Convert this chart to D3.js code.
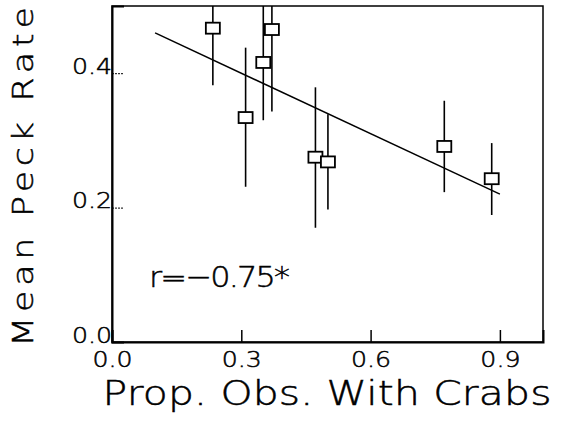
<!DOCTYPE html>
<html>
<head>
<meta charset="utf-8">
<script src="https://cdn.jsdelivr.net/npm/d3@7"></script>
<style>
  body { margin: 0; background: #fff; }
  text { font-family: "DejaVu Sans", sans-serif; font-weight: 200; fill: #000; stroke: #000; stroke-width: 0.5; }
  .axis path, .axis line { stroke: #000; }
</style>
</head>
<body>
<script>
// values
var propCrabs = [0.234, 0.310, 0.351, 0.371, 0.472, 0.501, 0.771, 0.881];
var peckRate  = [0.467, 0.334, 0.416, 0.465, 0.275, 0.268, 0.291, 0.243];
var errLow    = [0.382, 0.231, 0.330, 0.343, 0.170, 0.197, 0.223, 0.189];
var errHigh   = [0.552, 0.438, 0.502, 0.587, 0.379, 0.339, 0.359, 0.296];
var fitX = [0.1, 0.9];
var fitY = [0.460, 0.220];
var xTicks = [0, 0.3, 0.6, 0.9];
var yTicks = [0, 0.2, 0.4];

var margin = {top: 6, right: 23, bottom: 89, left: 112},
width = 566 - margin.left - margin.right,
height = 431 - margin.top - margin.bottom;

var svg = d3.select("body").append("svg")
  .attr("width", 566)
  .attr("height", 431);

var g = svg.append("g")
  .attr("transform", "translate(" + margin.left + "," + margin.top + ")");

var x = d3.scaleLinear().domain([0, 1]).range([0, width]);
var y = d3.scaleLinear().domain([0, 0.5]).range([height, 0]);

g.append("clipPath").attr("id", "plotclip")
  .append("rect").attr("width", width).attr("height", height);

// frame
g.append("rect")
  .attr("width", width).attr("height", height)
  .attr("fill", "none").attr("stroke", "#000").attr("stroke-width", 1.5);

var Xaxis = g.append("g")
  .attr("class", "axis")
  .attr("transform", "translate(0," + height + ")")
  .call(d3.axisBottom(x).tickValues(xTicks).tickFormat(d3.format(".1f")).tickSize(-12).tickPadding(10));
Xaxis.select(".domain").attr("stroke-width", 2);
Xaxis.selectAll("line").attr("stroke-width", 1.5);
Xaxis.selectAll("text").style("font-size", "21px").attr("transform", "scale(1.2,1)");

var Yaxis = g.append("g")
  .attr("class", "axis")
  .call(d3.axisLeft(y).tickValues(yTicks).tickFormat(d3.format(".1f")).tickSize(-12).tickPadding(0));
Yaxis.select(".domain").attr("stroke-width", 2);
Yaxis.selectAll("line").attr("stroke-width", 1).attr("stroke-dasharray", "2,1");
Yaxis.selectAll("text").attr("dy", 0).style("font-size", "21px").attr("transform", "scale(1.2,1)");

// error bars
var data = propCrabs.map(function(d, i) {
  return {x: d, y: peckRate[i], lo: errLow[i], hi: errHigh[i]};
});

g.append("g").attr("clip-path", "url(#plotclip)")
  .selectAll("line.err").data(data).enter().append("line")
  .attr("class", "err")
  .attr("x1", function(d) { return x(d.x); })
  .attr("x2", function(d) { return x(d.x); })
  .attr("y1", function(d) { return y(d.lo); })
  .attr("y2", function(d) { return y(d.hi); })
  .attr("stroke", "#000").attr("stroke-width", 1.6);

// regression line
var fitline = d3.line()
  .x(function(d) { return x(d[0]); })
  .y(function(d) { return y(d[1]); });
g.append("path")
  .datum(fitX.map(function(d, i) { return [d, fitY[i]]; }))
  .attr("d", fitline)
  .attr("fill", "none").attr("stroke", "#000").attr("stroke-width", 1.5);

// markers
g.selectAll("rect.pt").data(data).enter().append("rect")
  .attr("class", "pt")
  .attr("x", function(d) { return x(d.x) - 7; })
  .attr("y", function(d) { return y(d.y) - 5.5; })
  .attr("width", 14).attr("height", 11)
  .attr("fill", "#fff").attr("stroke", "#000").attr("stroke-width", 1.8);

// annotation
g.append("text")
  .attr("transform", "translate(" + x(0.086) + "," + y(0.082) + ") scale(1.1,1)")
  .attr("textLength", 128).attr("lengthAdjust", "spacing")
  .style("font-size", "29px")
  .text("r=\u22120.75*");

// axis titles
svg.append("text")
  .attr("transform", "translate(327,405) scale(1.2,1)")
  .attr("text-anchor", "middle")
  .attr("textLength", 374).attr("lengthAdjust", "spacing")
  .style("font-size", "34px")
  .text("Prop. Obs. With Crabs");

svg.append("text")
  .attr("transform", "translate(33,177) rotate(-90) scale(1.2,1)")
  .attr("text-anchor", "middle")
  .attr("textLength", 283).attr("lengthAdjust", "spacing")
  .style("font-size", "29px")
  .text("Mean Peck Rate");
</script>
</body>
</html>
